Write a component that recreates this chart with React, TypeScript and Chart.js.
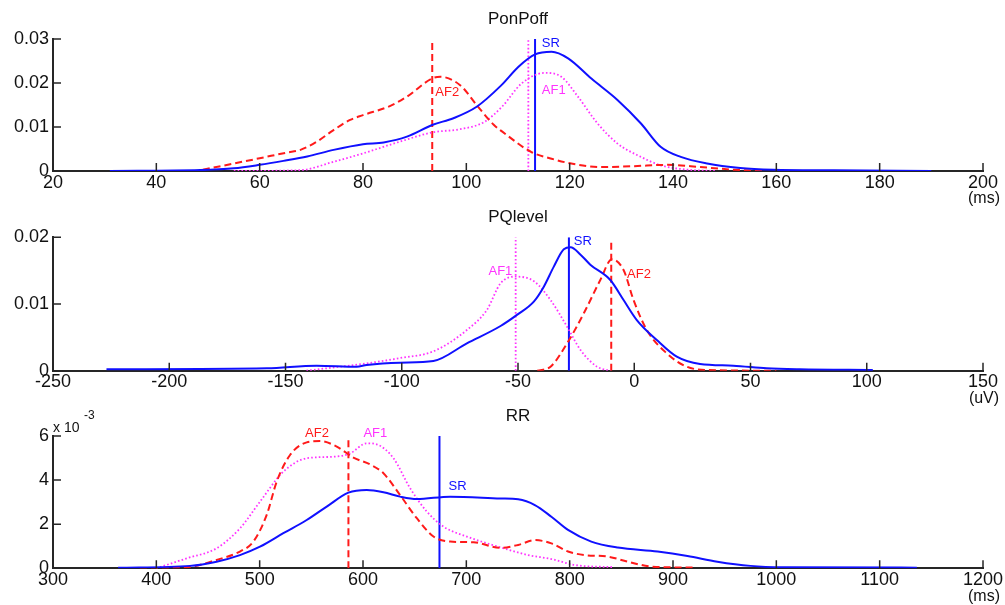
import { useEffect, useRef } from "react";
import { Chart, registerables } from "chart.js";

Chart.register(...registerables);

const FONT = "'Liberation Sans', Arial, Helvetica, sans-serif";
const TEXT = "#111111";
const AXIS = "#262626";
const BLUE = "#1010ff";
const RED = "#ff1a1a";
const MAGENTA = "#ff33ff";

// ---------------- PonPoff (ms) ----------------
const ponPoffSrX = [31, 48.5, 55, 60, 64.6, 69.2, 74.3, 80, 84, 88.5, 93.5, 97.5, 102, 106.7, 110.1, 113.3, 116.5, 119.7, 124.2, 129.3, 133.8, 137.6, 141.5, 146.6, 153, 159.4, 171, 190];
const ponPoffSrY = [0, 0.0002, 0.0006, 0.0014, 0.0023, 0.0033, 0.0048, 0.0061, 0.0065, 0.0078, 0.0105, 0.012, 0.0146, 0.0194, 0.0237, 0.0265, 0.0271, 0.0256, 0.021, 0.0161, 0.0108, 0.0055, 0.0032, 0.0017, 0.0007, 0.0003, 0.00015, 0];
const ponPoffAf1X = [55, 67.9, 74.3, 80, 87.2, 93.5, 98.8, 103.4, 106.9, 110.7, 115.2, 118.4, 121.6, 125.4, 129.3, 133.8, 137.6, 142.8, 148.5];
const ponPoffAf1Y = [0, 0.0002, 0.0021, 0.004, 0.0067, 0.0088, 0.0095, 0.0111, 0.0146, 0.0199, 0.0223, 0.0214, 0.0169, 0.0108, 0.0062, 0.0032, 0.0013, 0.0003, 0];
const ponPoffAf2X = [49, 55, 60, 65.3, 67.9, 71.1, 74.3, 77.5, 80, 85.3, 88.5, 93.5, 95, 98.8, 102, 105.3, 106.9, 112.6, 116.5, 120.3, 126.1, 132.5, 138.9, 145.3, 151.7, 157.5];
const ponPoffAf2Y = [0.0003, 0.0017, 0.0029, 0.0042, 0.0048, 0.0067, 0.0093, 0.0116, 0.0127, 0.0148, 0.0169, 0.0211, 0.0214, 0.0195, 0.015, 0.0105, 0.009, 0.0043, 0.0028, 0.0017, 0.0009, 0.0011, 0.0014, 0.0009, 0.0003, 0];
// vertical markers: SR, AF1, AF2
const ponPoffMarkX = [113.3, 112, 93.4];
const ponPoffMarkTop = [0.03, 0.03, 0.0296];
const ponPoffLabelText = ["SR", "AF1", "AF2"];
const ponPoffLabelX = [114.6, 114.6, 94];
const ponPoffLabelY = [0.0289, 0.0184, 0.0178];

// ---------------- PQlevel (uV) ----------------
const pqSrX = [-227, -158, -136.6, -119.4, -115.1, -100.7, -86.4, -72, -57.5, -50.3, -43.1, -38.9, -34.6, -30.3, -27.4, -23.1, -18.9, -10.3, -4.6, 1.1, 9.7, 18.3, 28.3, 42.6, 56.9, 71.1, 102.6];
const pqSrY = [0.0002, 0.00035, 0.00075, 0.0006, 0.00085, 0.0012, 0.00145, 0.0041, 0.0067, 0.0084, 0.0104, 0.0126, 0.0156, 0.0182, 0.0185, 0.0174, 0.0159, 0.0136, 0.0106, 0.0076, 0.0046, 0.0021, 0.001, 0.00075, 0.00035, 0.0002, 0.0001];
const pqAf1X = [-141, -115.1, -100.7, -86.4, -72, -63.4, -57.5, -51, -43.1, -36, -28.9, -23.1, -16, -10.3];
const pqAf1Y = [0, 0.0011, 0.0019, 0.0029, 0.0061, 0.0091, 0.0131, 0.0141, 0.0134, 0.0106, 0.0066, 0.0031, 0.0006, 0];
const pqAf2X = [-41.7, -36, -28.9, -21.7, -14.6, -9.6, -4.6, -0.3, 5.4, 14, 22.6, 31.1, 61.1];
const pqAf2Y = [0, 0.0006, 0.0041, 0.0086, 0.0136, 0.0167, 0.0151, 0.0106, 0.0061, 0.0026, 0.0006, 0.0001, 0];
const pqMarkX = [-28.1, -51, -9.9];
const pqMarkTop = [0.02, 0.02, 0.0196];
const pqLabelText = ["SR", "AF1", "AF2"];
const pqLabelX = [-26, -62.7, -3.1];
const pqLabelY = [0.0194, 0.0149, 0.0144];

// ---------------- RR (ms), values in units of 10^-3 ----------------
const rrSrX = [363, 432.5, 458.3, 480.9, 500.3, 522.9, 545.5, 564.9, 585.9, 603.6, 619.8, 635.9, 652.1, 684.4, 733, 750.2, 766.3, 782.3, 798.4, 820.9, 846.5, 885.1, 914, 942.9, 975, 1007, 1136];
const rrSrY = [0.03, 0.11, 0.3, 0.6, 0.98, 1.59, 2.19, 2.8, 3.43, 3.55, 3.45, 3.25, 3.14, 3.25, 3.17, 3.13, 2.87, 2.34, 1.74, 1.21, 0.94, 0.76, 0.56, 0.3, 0.11, 0.05, 0.03];
const rrAf1X = [400, 429.3, 458.3, 480.9, 500.3, 522.9, 545.5, 571.4, 587.5, 603.6, 613.3, 629.5, 645.6, 661.8, 677.9, 700.5, 733, 759.9, 782.3, 804.8, 843];
const rrAf1Y = [0, 0.45, 0.91, 1.81, 3.02, 4.38, 4.99, 5.06, 5.21, 5.67, 5.62, 4.99, 3.63, 2.57, 1.89, 1.44, 0.95, 0.6, 0.42, 0.15, 0.05];
const rrAf2X = [384, 429.3, 458.3, 480.9, 493.9, 506.8, 516.5, 529.4, 545.5, 558.4, 574.6, 590.7, 606.9, 619.8, 635.9, 652.1, 668.2, 684.4, 707, 733, 750.2, 766.3, 782.3, 798.4, 814.4, 836.9, 856.2, 878.7, 920];
const rrAf2Y = [0, 0.05, 0.38, 0.76, 1.21, 2.42, 3.93, 5.14, 5.71, 5.77, 5.52, 5.02, 4.71, 4.31, 3.32, 2.27, 1.44, 1.21, 1.18, 0.93, 1.06, 1.28, 1.13, 0.76, 0.6, 0.53, 0.3, 0.08, 0.03];
const rrMarkX = [674, 585.9];
const rrMarkTop = [6, 5.94];
const rrLabelText = ["SR", "AF1", "AF2"];
const rrLabelX = [682.8, 600.4, 543.9];
const rrLabelY = [3.7, 6.12, 6.12];

type Panel = {
  title: string;
  unit: string;
  top: number;
  height: number;
  padTop: number;
  padBottom: number;
  xMin: number;
  xMax: number;
  xStep: number;
  yMax: number;
  yStep: number;
  exponent: boolean;
  series: { xs: number[]; ys: number[]; color: string; style: string }[];
  marks: { x: number; top: number; color: string; style: string }[];
  labels: { text: string; x: number; y: number; color: string }[];
};

const colorFor: Record<string, string> = { SR: BLUE, AF1: MAGENTA, AF2: RED };
const styleFor: Record<string, string> = { SR: "solid", AF1: "dotted", AF2: "dashed" };

function buildMarks(xs: number[], tops: number[], names: string[]) {
  return xs.map((x, i) => ({ x, top: tops[i], color: colorFor[names[i]], style: styleFor[names[i]] }));
}
function buildLabels(texts: string[], xs: number[], ys: number[]) {
  return texts.map((t, i) => ({ text: t, x: xs[i], y: ys[i], color: colorFor[t] }));
}

const panels: Panel[] = [
  {
    title: "PonPoff",
    unit: "(ms)",
    top: 0,
    height: 212,
    padTop: 39,
    padBottom: 16,
    xMin: 20,
    xMax: 200,
    xStep: 20,
    yMax: 0.03,
    yStep: 0.01,
    exponent: false,
    series: [
      { xs: ponPoffSrX, ys: ponPoffSrY, color: BLUE, style: "solid" },
      { xs: ponPoffAf2X, ys: ponPoffAf2Y, color: RED, style: "dashed" },
      { xs: ponPoffAf1X, ys: ponPoffAf1Y, color: MAGENTA, style: "dotted" },
    ],
    marks: buildMarks(ponPoffMarkX, ponPoffMarkTop, ["SR", "AF1", "AF2"]),
    labels: buildLabels(ponPoffLabelText, ponPoffLabelX, ponPoffLabelY),
  },
  {
    title: "PQlevel",
    unit: "(uV)",
    top: 200,
    height: 212,
    padTop: 37.3,
    padBottom: 16.3,
    xMin: -250,
    xMax: 150,
    xStep: 50,
    yMax: 0.02,
    yStep: 0.01,
    exponent: false,
    series: [
      { xs: pqSrX, ys: pqSrY, color: BLUE, style: "solid" },
      { xs: pqAf2X, ys: pqAf2Y, color: RED, style: "dashed" },
      { xs: pqAf1X, ys: pqAf1Y, color: MAGENTA, style: "dotted" },
    ],
    marks: buildMarks(pqMarkX, pqMarkTop, ["SR", "AF1", "AF2"]),
    labels: buildLabels(pqLabelText, pqLabelX, pqLabelY),
  },
  {
    title: "RR",
    unit: "(ms)",
    top: 400,
    height: 205,
    padTop: 36,
    padBottom: 11.7,
    xMin: 300,
    xMax: 1200,
    xStep: 100,
    yMax: 6,
    yStep: 2,
    exponent: true,
    series: [
      { xs: rrSrX, ys: rrSrY, color: BLUE, style: "solid" },
      { xs: rrAf2X, ys: rrAf2Y, color: RED, style: "dashed" },
      { xs: rrAf1X, ys: rrAf1Y, color: MAGENTA, style: "dotted" },
    ],
    marks: buildMarks(rrMarkX, rrMarkTop, ["SR", "AF2"]),
    labels: buildLabels(rrLabelText, rrLabelX, rrLabelY),
  },
];

function dashFor(style: string): number[] {
  if (style === "dashed") return [7, 4];
  if (style === "dotted") return [1.6, 2.2];
  return [];
}
function widthFor(style: string): number {
  return style === "dotted" ? 1.8 : 2;
}

function makeDecor(p: Panel) {
  return {
    id: "decor",
    afterDraw(chart: any) {
      const { ctx, chartArea, scales } = chart;
      const xs = scales.x;
      const ys = scales.y;
      ctx.save();
      // inward tick marks
      ctx.strokeStyle = AXIS;
      ctx.lineWidth = 1.5;
      ctx.setLineDash([]);
      ctx.beginPath();
      xs.ticks.forEach((t: any) => {
        const px = xs.getPixelForValue(t.value);
        ctx.moveTo(px, chartArea.bottom);
        ctx.lineTo(px, chartArea.bottom - 8);
      });
      ys.ticks.forEach((t: any) => {
        const py = ys.getPixelForValue(t.value);
        ctx.moveTo(chartArea.left, py);
        ctx.lineTo(chartArea.left + 8, py);
      });
      ctx.stroke();

      ctx.textBaseline = "middle";
      // title
      ctx.fillStyle = TEXT;
      ctx.textAlign = "center";
      ctx.font = `17px ${FONT}`;
      ctx.fillText(p.title, (chartArea.left + chartArea.right) / 2, chartArea.top - 19.5);
      // unit
      ctx.font = `16px ${FONT}`;
      ctx.fillText(p.unit, chartArea.right + 1, chartArea.bottom + 28);
      // curve labels
      ctx.textAlign = "left";
      ctx.font = `13px ${FONT}`;
      p.labels.forEach((l) => {
        ctx.fillStyle = l.color;
        ctx.fillText(l.text, xs.getPixelForValue(l.x), ys.getPixelForValue(l.y));
      });
      // exponent
      if (p.exponent) {
        ctx.fillStyle = TEXT;
        ctx.font = `14px ${FONT}`;
        ctx.fillText("x 10", chartArea.left, chartArea.top - 8);
        ctx.font = `12px ${FONT}`;
        ctx.fillText("-3", chartArea.left + 31, chartArea.top - 20);
      }
      ctx.restore();
    },
  };
}

function PanelChart({ p }: { p: Panel }) {
  const ref = useRef<HTMLCanvasElement | null>(null);
  useEffect(() => {
    if (!ref.current) return;
    const datasets: any[] = [];
    p.series.forEach((s) => {
      datasets.push({
        data: s.xs.map((x, i) => ({ x, y: s.ys[i] })),
        borderColor: s.color,
        borderWidth: widthFor(s.style),
        borderDash: dashFor(s.style),
        pointRadius: 0,
        fill: false,
        cubicInterpolationMode: "monotone",
      });
    });
    p.marks.forEach((m) => {
      datasets.push({
        data: [
          { x: m.x, y: 0 },
          { x: m.x, y: m.top },
        ],
        borderColor: m.color,
        borderWidth: widthFor(m.style),
        borderDash: dashFor(m.style),
        pointRadius: 0,
        fill: false,
        tension: 0,
      });
    });
    const chart = new Chart(ref.current, {
      type: "line",
      data: { datasets },
      options: {
        animation: false,
        responsive: false,
        devicePixelRatio: 1,
        layout: { padding: { top: p.padTop, bottom: p.padBottom, left: 0, right: 22 } },
        plugins: { legend: { display: false }, tooltip: { enabled: false }, title: { display: false } },
        scales: {
          x: {
            type: "linear",
            min: p.xMin,
            max: p.xMax,
            grid: { display: false, drawTicks: false },
            border: { display: true, color: AXIS, width: 2 },
            ticks: {
              stepSize: p.xStep,
              autoSkip: false,
              maxRotation: 0,
              padding: 1,
              color: TEXT,
              font: { family: FONT, size: 18 },
              callback: (v: any) => String(v),
            },
            afterFit: (s: any) => {
              s.height = 25;
            },
          },
          y: {
            type: "linear",
            min: 0,
            max: p.yMax,
            grid: { display: false, drawTicks: false },
            border: { display: true, color: AXIS, width: 2 },
            ticks: {
              stepSize: p.yStep,
              padding: 4,
              color: TEXT,
              font: { family: FONT, size: 18 },
              callback: (v: any) => String(Math.round(Number(v) * 1e6) / 1e6),
            },
            afterFit: (s: any) => {
              s.width = 53;
            },
          },
        },
      } as any,
      plugins: [makeDecor(p)],
    });
    return () => chart.destroy();
  }, [p]);
  return (
    <canvas
      ref={ref}
      width={1005}
      height={p.height}
      style={{ position: "absolute", left: 0, top: p.top, width: 1005, height: p.height }}
    />
  );
}

export default function App() {
  return (
    <div style={{ position: "absolute", left: 0, top: 0, width: 1005, height: 605, background: "#ffffff", overflow: "hidden" }}>
      {panels.map((p) => (
        <PanelChart key={p.title} p={p} />
      ))}
    </div>
  );
}
